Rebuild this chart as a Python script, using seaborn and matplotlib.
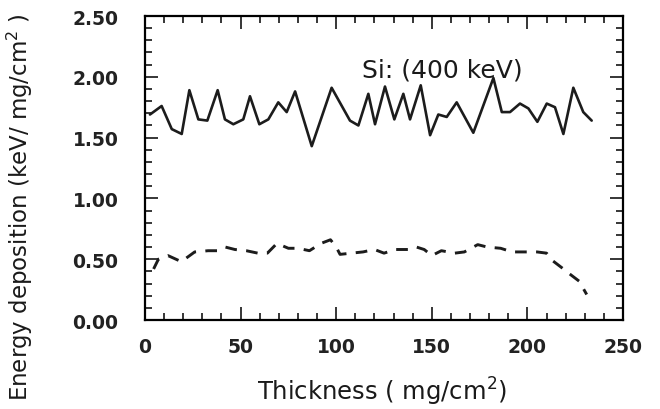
import matplotlib
matplotlib.use("Agg")
import matplotlib.pyplot as plt
import seaborn as sns
import pandas as pd
from matplotlib.ticker import MultipleLocator, FormatStrFormatter

# Solid curve: total energy deposition
x_solid = [2.6, 8.7, 14, 19.2, 23.2, 27.9, 32.6, 38, 41.8, 46.2, 51.4, 54.9, 59.8, 64.5,
           69.7, 74.1, 78.5, 87.2, 97.6, 107.2, 111.6, 116.8, 120.3, 125.5, 130.4, 135.1,
           138.6, 144.2, 149.1, 153.4, 157.8, 163, 171.7, 182.2, 186.6, 190.9, 196.1,
           200.5, 205.2, 210.1, 214.4, 218.8, 224, 229.2, 233.6]
y_solid = [1.69, 1.76, 1.57, 1.53, 1.89, 1.65, 1.64, 1.89, 1.65, 1.61, 1.65, 1.84, 1.61, 1.65,
           1.79, 1.71, 1.88, 1.43, 1.91, 1.64, 1.60, 1.86, 1.61, 1.92, 1.65, 1.86,
           1.65, 1.93, 1.52, 1.69, 1.67, 1.79, 1.54, 1.99, 1.71, 1.71, 1.78,
           1.74, 1.63, 1.78, 1.75, 1.53, 1.91, 1.71, 1.64]

# Dashed curve
x_dash = [4.5, 7, 12, 19, 26, 33, 38, 42, 47, 53, 59, 64, 69, 75, 80, 86, 92, 97, 100, 102,
          108, 114, 120, 125, 131, 138, 142, 146, 150, 155, 162, 167, 174, 179, 186, 192,
          198, 205, 210, 213, 218, 222, 227, 231]
y_dash = [0.42, 0.50, 0.53, 0.48, 0.56, 0.57, 0.57, 0.60, 0.58, 0.57, 0.55, 0.55, 0.63, 0.59,
          0.59, 0.57, 0.63, 0.66, 0.60, 0.54, 0.55, 0.56, 0.58, 0.55, 0.58, 0.58, 0.60, 0.58,
          0.53, 0.57, 0.55, 0.56, 0.62, 0.60, 0.59, 0.56, 0.56, 0.56, 0.55, 0.49, 0.43, 0.38,
          0.32, 0.21]

x_ticks = [0, 50, 100, 150, 200, 250]
y_ticks = [0.0, 0.5, 1.0, 1.5, 2.0, 2.5]

sns.set_style("white")
plt.rcParams["font.family"] = ["DejaVu Sans"]

fig = plt.figure(figsize=(6.6, 4.1), dpi=100)
ax = fig.add_axes([0.2197, 0.217, 0.7243, 0.7415])

df_s = pd.DataFrame({"x": x_solid, "y": y_solid})
df_d = pd.DataFrame({"x": x_dash, "y": y_dash})
sns.lineplot(data=df_s, x="x", y="y", ax=ax, color="#1c1c1c", linewidth=1.9, sort=False)
sns.lineplot(data=df_d, x="x", y="y", ax=ax, color="#1c1c1c", linewidth=2.1, sort=False,
             linestyle=(0, (4.0, 3.2)))

ax.set_xlim(0, 250)
ax.set_ylim(0, 2.5)
ax.set_xticks(x_ticks)
ax.set_yticks(y_ticks)
ax.xaxis.set_minor_locator(MultipleLocator(10))
ax.yaxis.set_minor_locator(MultipleLocator(0.1))
ax.yaxis.set_major_formatter(FormatStrFormatter("%.2f"))

for s in ax.spines.values():
    s.set_color("black")
    s.set_linewidth(1.6)
    s.set_visible(True)

ax.tick_params(which="both", direction="in", top=True, right=True, bottom=True, left=True,
               color="black", width=1.1)
ax.tick_params(which="major", length=9.5)
ax.tick_params(which="minor", length=5)
ax.tick_params(axis="y", which="major", labelsize=13.5, pad=19)
ax.tick_params(axis="x", which="major", labelsize=13.5, pad=12)
for lab in ax.get_xticklabels() + ax.get_yticklabels():
    lab.set_fontweight("bold")
    lab.set_color("#222222")

ax.set_xlabel("Thickness ( mg/cm$^2$)", fontsize=17.5, color="#1a1a1a")
ax.xaxis.set_label_coords(0.496, -0.18)
ax.set_ylabel("Energy deposition (keV/ mg/cm$^2$ )", fontsize=16.5, color="#1a1a1a")
ax.yaxis.set_label_coords(-0.23, 0.375)
ax.text(113.5, 2.06, "Si: (400 keV)", fontsize=18, ha="left", va="center", color="#1a1a1a")

fig.savefig("out.png", dpi=100)
